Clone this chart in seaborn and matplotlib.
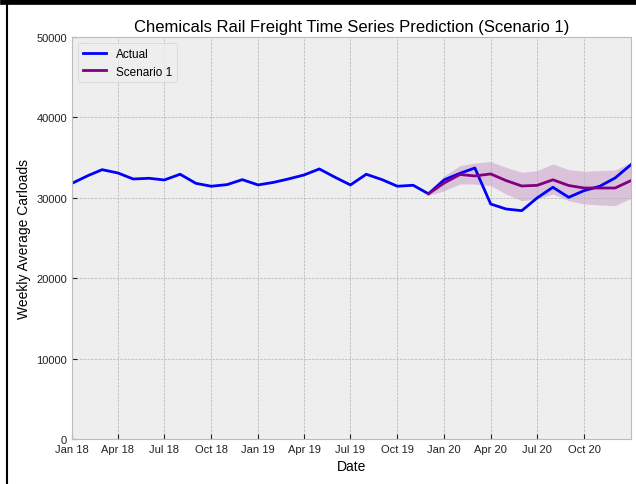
import matplotlib
matplotlib.use("Agg")
from matplotlib import pyplot as plt
import matplotlib.dates as mdates
from matplotlib.lines import Line2D
from matplotlib.patches import Rectangle
import pandas as pd
import seaborn as sns

# monthly values, Jan 2018 .. Jan 2021
actual = [31800, 32750, 33500, 33090, 32340, 32430, 32220, 32930, 31800,
          31440, 31640, 32260, 31600, 31930, 32340, 32840, 33590, 32550,
          31600, 32930, 32260, 31440, 31560, 30500, 32240, 33050, 33710,
          29230, 28610, 28400, 29980, 31310, 30060, 30890, 31440, 32470,
          34120]
# scenario starts at Dec 2019
scenario = [30500, 31850, 32900, 32720, 32970, 32150, 31470, 31550, 32240,
            31530, 31220, 31220, 31220, 32140]
upper = [30700, 32750, 34000, 34330, 34500, 33800, 33180, 33380, 34210,
         33500, 33300, 33380, 33460, 34420]
lower = [30300, 30890, 31720, 31720, 31510, 30480, 29640, 29860, 30480,
         29640, 29230, 29110, 29020, 29940]

dates = pd.date_range("2018-01-01", periods=len(actual), freq="MS")
tick_dates = pd.date_range("2018-01-01", "2020-10-01", freq="QS")
df_act = pd.DataFrame({"date": dates, "val": actual})
df_scn = pd.DataFrame({"date": dates[-len(scenario):], "val": scenario,
                       "lo": lower, "hi": upper})

plt.style.use("bmh")
plt.rcParams["font.family"] = ["Liberation Sans", "DejaVu Sans"]

fig = plt.figure(figsize=(6.36, 4.85), dpi=100)
fig.patch.set_facecolor("white")
ax = fig.add_axes([0.1132, 0.0928, 0.8788, 0.8288])

sns.lineplot(data=df_act, x="date", y="val", color="blue", linewidth=2,
             label="Actual", ax=ax)
sns.lineplot(data=df_scn, x="date", y="val", color="purple", linewidth=2,
             label="Scenario 1", ax=ax)
ax.fill_between(df_scn["date"], df_scn["lo"], df_scn["hi"], color="purple",
                alpha=0.18, linewidth=0)

ax.set_xlim(dates[0], dates[-1])
ax.set_ylim(0, 50000)
ax.set_yticks(range(0, 50001, 10000))
ax.set_xticks(tick_dates)
ax.xaxis.set_major_formatter(mdates.DateFormatter("%b %y"))
ax.tick_params(direction="in", length=3.5, labelsize=8, colors="#222222")

ax.set_title("Chemicals Rail Freight Time Series Prediction (Scenario 1)",
             fontsize=12, pad=4)
ax.set_xlabel("Date", fontsize=10)
ax.set_ylabel("Weekly Average Carloads", fontsize=10)
ax.legend(loc="upper left", fontsize=8.5)

# screenshot frame bits
fig.add_artist(Rectangle((0, 0.99), 1, 0.01, transform=fig.transFigure,
                         color="black", zorder=10))
fig.add_artist(Line2D([0.0105, 0.0105], [0, 1], transform=fig.transFigure,
                      color="black", linewidth=1.5))

fig.savefig("out.png", dpi=100)
